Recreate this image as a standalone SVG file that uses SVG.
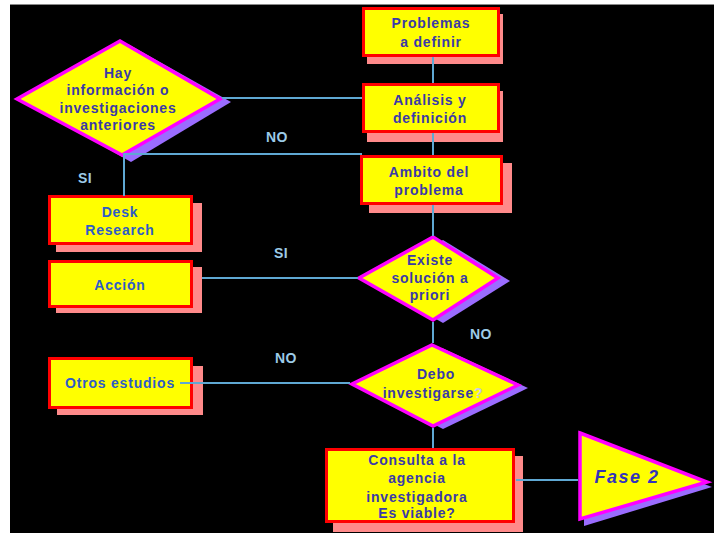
<svg xmlns="http://www.w3.org/2000/svg" width="714" height="533" viewBox="0 0 714 533">
<style>
.box{fill:#ffff00;stroke:#ff0000;stroke-width:3}
.bsh{fill:#ff8a8a}
.dia{fill:#ffff00;stroke:#ff00ff;stroke-width:3.5;stroke-linejoin:miter}
.dsh{fill:#9a6cff}
.t{font-family:"Liberation Sans",Arial,sans-serif;font-weight:bold;font-size:14px;letter-spacing:0.8px;fill:#3a3aa8;text-anchor:middle}
.tb{fill:#2e5cc8}
.lab{font-family:"Liberation Sans",Arial,sans-serif;font-weight:bold;font-size:14px;letter-spacing:0.4px;fill:#9ccbe8;text-anchor:middle}
.ln{stroke:#5fa8d3;stroke-width:2;fill:none}
</style>
<rect x="0" y="0" width="714" height="533" fill="#ffffff"/>
<rect x="10" y="4" width="704" height="529" fill="#000000"/>
<line x1="10" y1="4.5" x2="714" y2="4.5" stroke="#888" stroke-width="1"/>

<g id="problemas">
<rect class="bsh" x="367" y="14" width="136" height="50"/>
<rect class="box" x="363.5" y="8.5" width="135" height="47"/>
<text class="t" x="431" y="28">Problemas</text>
<text class="t" x="431" y="47">a definir</text>
</g>
<g id="analisis">
<rect class="bsh" x="367" y="91" width="136" height="51"/>
<rect class="box" x="363.5" y="84.5" width="135" height="47"/>
<text class="t" x="430" y="105">Análisis y</text>
<text class="t" x="430" y="123">definición</text>
</g>
<g id="ambito">
<rect class="bsh" x="369" y="163" width="143" height="50"/>
<rect class="box" x="361.5" y="156.5" width="140" height="47"/>
<text class="t" x="429" y="177">Ambito del</text>
<text class="t" x="429" y="195">problema</text>
</g>
<g id="hay">
<polygon class="dsh" points="128,44 231,102 131,162 26,102"/>
<polygon class="dia" points="120,41 220,99 122,155 17,99"/>
<text class="t" x="118" y="78">Hay</text>
<text class="t" x="118" y="95">información o</text>
<text class="t" x="118" y="113">investigaciones</text>
<text class="t" x="118" y="130">anteriores</text>
</g>
<g id="desk">
<rect class="bsh" x="56" y="203" width="146" height="49"/>
<rect class="box" x="49.5" y="196.5" width="142" height="47"/>
<text class="t tb" x="120" y="217">Desk</text>
<text class="t tb" x="120" y="235">Research</text>
</g>
<g id="accion">
<rect class="bsh" x="56" y="267" width="146" height="46"/>
<rect class="box" x="49.5" y="261.5" width="142" height="45"/>
<text class="t tb" x="120" y="290">Acción</text>
</g>
<g id="existe">
<polygon class="dsh" points="443,240 510,281 443,323 369,281"/>
<polygon class="dia" points="433,237 498,278 433,320 359,278"/>
<text class="t" x="430" y="265">Existe</text>
<text class="t" x="430" y="283">solución a</text>
<text class="t" x="430" y="300">priori</text>
</g>
<g id="otros">
<rect class="bsh" x="57" y="366" width="146" height="49"/>
<rect class="box" x="49.5" y="358.5" width="142" height="49"/>
<text class="t tb" x="120" y="388">Otros estudios</text>
</g>
<g id="debo">
<polygon class="dsh" points="442,348 528,388 443,429 362,387"/>
<polygon class="dia" points="432,345 518,385 433,426 352,384"/>
<text class="t" x="436" y="379">Debo</text>
<text class="t" x="433" y="398">investigarse<tspan fill="#c9c9ea">?</tspan></text>
</g>
<g id="consulta">
<rect class="bsh" x="333" y="456" width="190" height="76"/>
<rect class="box" x="326.5" y="449.5" width="187" height="72"/>
<text class="t" x="417" y="465">Consulta a la</text>
<text class="t" x="417" y="483">agencia</text>
<text class="t" x="417" y="502">investigadora</text>
<text class="t" x="417" y="518">Es viable?</text>
</g>
<g id="fase2">
<polygon class="dsh" points="584,438 712,487 584,526"/>
<polygon class="dia" points="580,433 707,482 580,519"/>
<text x="627" y="483" font-family="Liberation Sans, Arial, sans-serif" font-weight="bold" font-style="italic" font-size="18" letter-spacing="1.5" fill="#3333bb" text-anchor="middle">Fase 2</text>
</g>

<g id="connectors">
<line class="ln" x1="433" y1="57" x2="433" y2="83"/>
<line class="ln" x1="433" y1="133" x2="433" y2="155"/>
<line class="ln" x1="433" y1="205" x2="433" y2="236"/>
<line class="ln" x1="433" y1="322" x2="433" y2="343"/>
<line class="ln" x1="433" y1="428" x2="433" y2="448"/>
<line class="ln" x1="222" y1="98" x2="362" y2="98"/>
<polyline class="ln" points="362,154 124,154 124,196"/>
<line class="ln" x1="202" y1="278" x2="358" y2="278"/>
<line class="ln" x1="180" y1="383" x2="350" y2="383"/>
<line class="ln" x1="516" y1="480" x2="578" y2="480"/>
</g>
<g id="labels">
<text class="lab" x="277" y="142">NO</text>
<text class="lab" x="85" y="183">SI</text>
<text class="lab" x="281" y="258">SI</text>
<text class="lab" x="481" y="339">NO</text>
<text class="lab" x="286" y="363">NO</text>
</g>
</svg>
